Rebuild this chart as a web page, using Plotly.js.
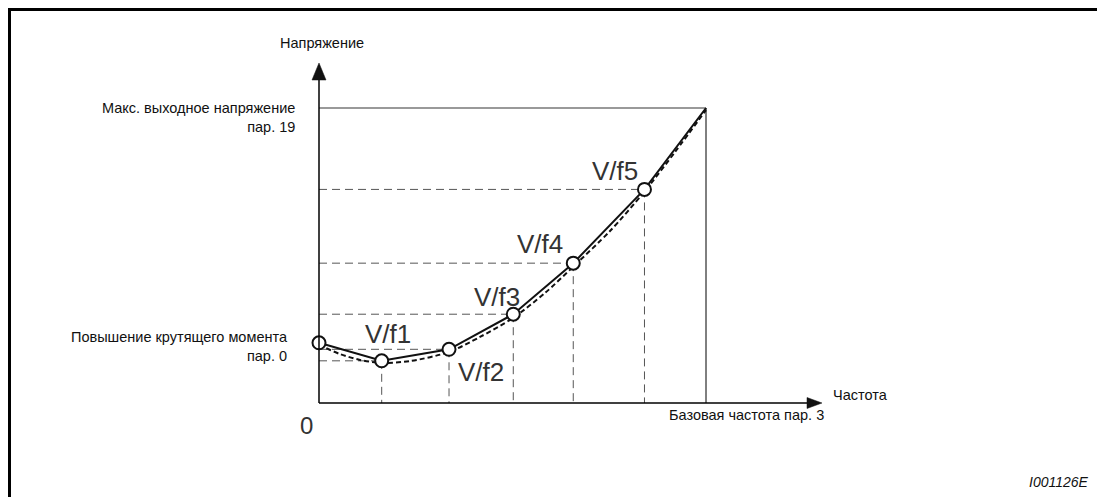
<!DOCTYPE html>
<html>
<head>
<meta charset="utf-8">
<script src="https://cdn.plot.ly/plotly-3.0.1.min.js"></script>
<style>
  html, body { margin: 0; padding: 0; background: #fff; }
  #chart { width: 1097px; height: 497px; }
</style>
</head>
<body>
<div id="chart"></div>
<script>
// ---- data (frequency as % of base frequency, voltage as % of max output voltage) ----
const pointNames = ["", "V/f1", "V/f2", "V/f3", "V/f4", "V/f5", ""];
const freqPts = [0, 16.2, 33.6, 50.2, 65.7, 84.1, 100];
const voltPts = [20.4, 14.3, 18.2, 30.1, 47.4, 72.4, 100];

const curveFreq = [0, 5.4, 10.6, 16.3, 23.5, 33.6, 41.6, 50.1, 58.4, 65.6, 75.2, 84.0, 92.0, 100];
const curveVolt = [19.7, 16.6, 14.6, 13.6, 14.2, 17.3, 22.4, 28.8, 37.3, 46.1, 58.3, 71.5, 85.1, 99.3];

const baseFreq = 100;
const maxVolt = 100;
const boostVolt = voltPts[0];

const yAxisTitle = "Напряжение";
const xAxisTitle = "Частота";
const maxVoltLabel = ["Макс. выходное напряжение", "пар. 19"];
const boostLabel = ["Повышение крутящего момента", "пар. 0"];
const baseFreqLabel = "Базовая частота пар. 3";
const originLabel = "0";
const figId = "I001126E";

// ---- geometry (pixels) ----
const W = 1097, H = 497;
const OX = 319, OY = 403, SX = 3.87, SY = 2.95;
const PL = 300, PR = 840, PT = 56, PB = 420;
const xr = [(PL - OX) / SX, (PR - OX) / SX];
const yr = [(OY - PB) / SY, (OY - PT) / SY];
const px2x = p => (p - OX) / SX;
const py2y = p => (OY - p) / SY;
const ppx = p => (p - PL) / (PR - PL);
const ppy = p => (PB - p) / (PB - PT);

const NARROW = '"Liberation Sans Narrow", "Liberation Sans", Arial, sans-serif';
const HELV = '"Liberation Sans", Arial, Helvetica, sans-serif';

const yTip = py2y(63), yBase = py2y(80), yHalfW = 7 / SX;
const xTip = px2x(822), xBase = px2x(807), xHalfH = 5.5 / SY;

const shapes = [];
// frame (top + left)
shapes.push({type: 'line', xref: 'paper', yref: 'paper', x0: ppx(8), x1: ppx(W), y0: ppy(9.5), y1: ppy(9.5), line: {color: '#000', width: 3}});
shapes.push({type: 'line', xref: 'paper', yref: 'paper', x0: ppx(9.5), x1: ppx(9.5), y0: ppy(8), y1: ppy(H), line: {color: '#000', width: 3}});

// guide dashed lines
for (let i = 1; i < freqPts.length - 1; i++) {
  shapes.push({type: 'line', xref: 'x', yref: 'y', x0: 0, x1: freqPts[i], y0: voltPts[i], y1: voltPts[i], line: {color: '#555', width: 1, dash: '8px,5px'}, layer: 'below'});
  shapes.push({type: 'line', xref: 'x', yref: 'y', x0: freqPts[i], x1: freqPts[i], y0: voltPts[i], y1: 0, line: {color: '#555', width: 1, dash: '8px,5px'}, layer: 'below'});
}
// max voltage line
shapes.push({type: 'line', xref: 'x', yref: 'y', x0: 0, x1: baseFreq, y0: maxVolt, y1: maxVolt, line: {color: '#777', width: 1.5}, layer: 'below'});
// base frequency line
shapes.push({type: 'line', xref: 'x', yref: 'y', x0: baseFreq, x1: baseFreq, y0: 0, y1: maxVolt, line: {color: '#000', width: 1}, layer: 'below'});
// axes
shapes.push({type: 'line', xref: 'x', yref: 'y', x0: 0, x1: 0, y0: 0, y1: yBase, line: {color: '#000', width: 1.5}});
shapes.push({type: 'line', xref: 'x', yref: 'y', x0: 0, x1: xBase, y0: 0, y1: 0, line: {color: '#000', width: 1.5}});
shapes.push({type: 'path', xref: 'x', yref: 'y', path: `M ${-yHalfW},${yBase} L ${yHalfW},${yBase} L 0,${yTip} Z`, fillcolor: '#111', line: {color: '#111', width: 0.5}});
shapes.push({type: 'path', xref: 'x', yref: 'y', path: `M ${xBase},${-xHalfH} L ${xBase},${xHalfH} L ${xTip},0 Z`, fillcolor: '#111', line: {color: '#111', width: 0.5}});

const labelFont = {family: NARROW, size: 14.5, color: '#111'};
const annotations = [];
function ann(o) { annotations.push(Object.assign({showarrow: false, xref: 'x', yref: 'y'}, o)); }

ann({x: 0, y: yTip, text: yAxisTitle, xanchor: 'center', yanchor: 'middle', xshift: 3, yshift: 20, font: labelFont});
ann({x: xTip, y: 0, text: xAxisTitle, xanchor: 'left', yanchor: 'middle', xshift: 9, yshift: 8, font: labelFont});
ann({x: baseFreq, y: 0, text: baseFreqLabel, xanchor: 'center', yanchor: 'middle', xshift: 40, yshift: -12, font: labelFont});
ann({x: 0, y: maxVolt, text: maxVoltLabel.join('<br>'), align: 'right', xanchor: 'right', yanchor: 'middle', xshift: -22, yshift: -9, font: labelFont});
ann({x: 0, y: boostVolt, text: boostLabel.join('<br>'), align: 'right', xanchor: 'right', yanchor: 'middle', xshift: -29, yshift: -4, font: labelFont});
ann({x: 0, y: 0, text: originLabel, xanchor: 'center', yanchor: 'middle', xshift: -13, yshift: -22, font: {family: HELV, size: 24, color: '#333'}});
ann({xref: 'paper', yref: 'paper', x: ppx(1091), y: ppy(482), text: figId, xanchor: 'right', yanchor: 'middle', font: {family: HELV, size: 14, color: '#111', style: 'italic'}});

const vfOffsets = [null, [6, -27], [32, 23], [-16, -17], [-33, -19], [-29, -18], null];
for (let i = 1; i < freqPts.length - 1; i++) {
  ann({x: freqPts[i], y: voltPts[i], text: pointNames[i], xanchor: 'center', yanchor: 'middle',
       xshift: vfOffsets[i][0], yshift: -vfOffsets[i][1], font: {family: HELV, size: 26, color: '#333'}});
}

const traces = [
  {x: curveFreq, y: curveVolt, type: 'scatter', mode: 'lines', line: {color: '#111', width: 2, dash: '5px,3px', shape: 'spline', smoothing: 0.8}, cliponaxis: false, hoverinfo: 'skip'},
  {x: freqPts, y: voltPts, type: 'scatter', mode: 'lines+markers', line: {color: '#111', width: 2},
   marker: {size: freqPts.map((_, i) => i === freqPts.length - 1 ? 0 : 13), color: '#ffffff', opacity: 1, line: {color: '#111', width: 2}},
   cliponaxis: false, hoverinfo: 'skip'}
];

const layout = {
  width: W, height: H,
  margin: {l: PL, r: W - PR, t: PT, b: H - PB, pad: 0},
  paper_bgcolor: '#fff', plot_bgcolor: 'rgba(0,0,0,0)',
  showlegend: false,
  xaxis: {range: xr, showgrid: false, zeroline: false, showticklabels: false, showline: false, ticks: '', fixedrange: true},
  yaxis: {range: yr, showgrid: false, zeroline: false, showticklabels: false, showline: false, ticks: '', fixedrange: true},
  shapes: shapes,
  annotations: annotations
};

Plotly.newPlot('chart', traces, layout, {staticPlot: true, displayModeBar: false});
</script>
</body>
</html>
